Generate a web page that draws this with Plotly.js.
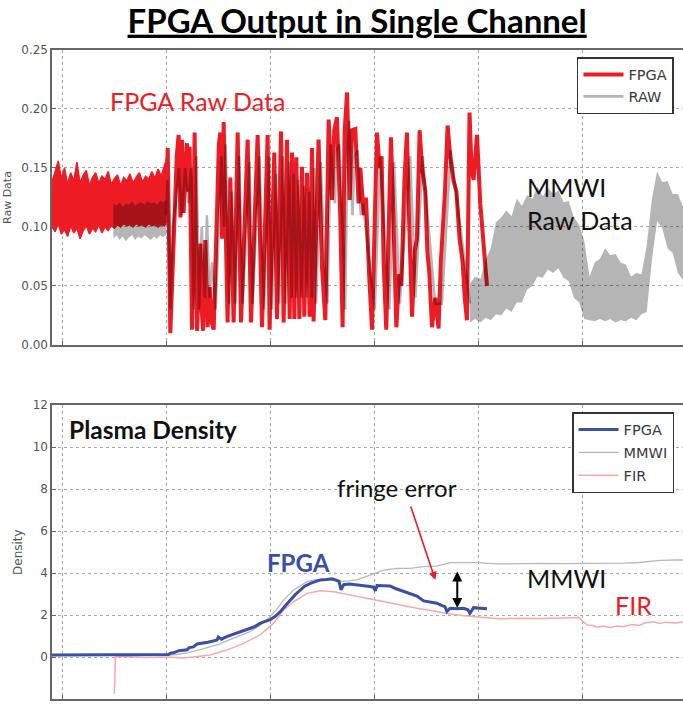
<!DOCTYPE html>
<html><head><meta charset="utf-8">
<script src="https://cdn.plot.ly/plotly-3.0.1.min.js"></script>
<style>html,body{margin:0;padding:0;overflow:hidden;background:#fff}#chart{width:710px;height:704px}</style>
</head><body><div id="chart"></div>
<script>
// ---- top panel: raw signals ----
const fpgaBandX  = [-10,-7,-4,-1,2,5,8,11,14,17,20,23,26,29,32,35,38,41,44,47,50,53,56,59,62,65,68,71,74,77,80,83,86,89,92,95,98,101];
const fpgaBandHi = [0.138,0.147,0.156,0.141,0.150,0.136,0.146,0.139,0.155,0.137,0.144,0.148,0.135,0.142,0.146,0.137,0.143,0.140,0.147,0.136,0.141,0.144,0.135,0.142,0.139,0.145,0.137,0.142,0.146,0.138,0.143,0.140,0.147,0.141,0.149,0.143,0.152,0.160];
const fpgaBandLo = [0.100,0.096,0.103,0.094,0.098,0.092,0.101,0.095,0.099,0.090,0.097,0.101,0.094,0.099,0.096,0.102,0.095,0.100,0.097,0.101,0.099,0.102,0.100,0.103,0.101,0.102,0.100,0.103,0.101,0.102,0.100,0.103,0.101,0.102,0.100,0.102,0.101,0.105];

const fpgaRaw = [[100,0.125],[101.3,0.167],[103.8,0.010],[106,0.07],[108.7,0.134],[110,0.16],[111.8,0.178],[113.5,0.108],[115.1,0.174],[116.6,0.112],[118.3,0.150],[119.9,0.171],[121,0.13],[122.4,0.168],[124.7,0.013],[127.2,0.180],[129.5,0.012],[131,0.06],[132.7,0.086],[134,0.03],[135.3,0.012],[137.5,0.089],[139.7,0.015],[141.6,0.049],[143.5,0.02],[145.5,0.013],[148.5,0.10],[150.5,0.17],[151.9,0.180],[153.6,0.09],[155.1,0.189],[158.9,0.019],[161.5,0.142],[164.7,0.019],[168.6,0.180],[171.8,0.019],[178.2,0.174],[181.4,0.019],[187.8,0.178],[192,0.015],[197.4,0.178],[199.3,0.013],[203.8,0.163],[206.4,0.022],[210.3,0.181],[212.8,0.019],[216,0.174],[218.6,0.022],[220.9,0.163],[223.1,0.022],[225,0.159],[227.9,0.022],[230.5,0.151],[232.7,0.024],[235.3,0.146],[237.8,0.024],[240.1,0.167],[241.6,0.020],[246.4,0.174],[249.7,0.066],[252.9,0.021],[256.1,0.191],[259.3,0.123],[261.5,0.182],[264.1,0.193],[267.3,0.108],[269.5,0.015],[271.4,0.180],[273.8,0.214],[276.3,0.123],[278.6,0.182],[281.7,0.183],[284.9,0.120],[286.5,0.150],[290,0.110],[292,0.125],[295,0.060],[297.8,0.013],[302.6,0.180],[305,0.150],[307,0.160],[309,0.070],[311.5,0.013],[316,0.176],[318,0.120],[321.2,0.015],[324,0.060],[326,0.050],[329,0.140],[331.4,0.180],[333,0.120],[336.3,0.024],[339,0.080],[341,0.090],[343.6,0.182],[346,0.150],[349,0.130],[351,0.080],[353,0.060],[355.5,0.015],[358.7,0.040],[361.8,0.014],[364,0.070],[366,0.100],[368,0.130],[370.5,0.186],[373,0.160],[376,0.140],[379,0.130],[382,0.090],[385,0.070],[387,0.040],[389.1,0.021],[391.6,0.197],[393.5,0.150],[395.5,0.140],[398.8,0.178],[401.9,0.120],[405.1,0.090],[408.4,0.050]];

const rawBandLX  = [49,52,55,58,61,64,67,70,73,76,79,82,85,88,91,94,97,100];
const rawBandLHi = [0.120,0.118,0.121,0.117,0.120,0.119,0.122,0.118,0.120,0.121,0.119,0.122,0.120,0.121,0.119,0.122,0.121,0.123];
const rawBandLLo = [0.090,0.093,0.089,0.092,0.088,0.091,0.093,0.089,0.092,0.090,0.093,0.091,0.089,0.092,0.090,0.093,0.091,0.094];

const rawMid = [[100,0.11],[101,0.14],[104,0.03],[106,0.10],[109,0.12],[112,0.15],[115,0.11],[118,0.15],[121,0.12],[124,0.15],[126.5,0.03],[129,0.16],[131.5,0.03],[134,0.10],[137,0.04],[139,0.11],[141.5,0.04],[144,0.07],[147.5,0.03],[153,0.16],[155.5,0.10],[157,0.17],[160.5,0.035],[163,0.13],[166.5,0.035],[170,0.16],[173.5,0.035],[180,0.155],[183,0.035],[189.5,0.16],[194,0.03],[199,0.16],[201.5,0.03],[205.5,0.145],[208.5,0.035],[212,0.16],[215,0.035],[218,0.155],[220.5,0.04],[222.5,0.145],[225,0.04],[227,0.14],[230,0.04],[232.5,0.135],[235,0.04],[237.5,0.13],[240,0.04],[242.5,0.15],[244,0.035],[248.5,0.155],[252,0.07],[255,0.035],[258,0.17],[262,0.12],[264,0.165],[266.5,0.17],[269.5,0.10],[272,0.03],[274,0.16],[276,0.19],[279,0.11],[281,0.16],[284,0.165],[287,0.11],[289,0.12],[300.5,0.03],[305.5,0.16],[314.5,0.03],[319,0.155],[324.5,0.035],[334.5,0.16],[339.5,0.04],[346.5,0.16],[358.5,0.035],[365,0.035],[373.5,0.165],[392,0.035]];

const rawBandRX  = [392,397,402,407,412,417,422,427,432,437,442,447,452,457,462,467,472,477,482,487,492,497,502,507,512,517,522,527,532,537,542,547,552,557,562,567,572,577,582,587,592,597,602,607,612,617,622];
const rawBandRHi = [0.052,0.058,0.056,0.072,0.082,0.104,0.108,0.114,0.109,0.124,0.118,0.127,0.124,0.134,0.126,0.133,0.128,0.131,0.121,0.122,0.108,0.102,0.088,0.058,0.070,0.073,0.082,0.076,0.077,0.070,0.068,0.058,0.061,0.060,0.084,0.124,0.147,0.138,0.139,0.128,0.128,0.117,0.117,0.109,0.111,0.103,0.106];
const rawBandRLo = [0.019,0.022,0.019,0.023,0.021,0.026,0.025,0.031,0.028,0.036,0.036,0.047,0.050,0.058,0.057,0.064,0.061,0.065,0.057,0.054,0.040,0.036,0.022,0.021,0.020,0.022,0.020,0.022,0.019,0.021,0.020,0.023,0.021,0.026,0.028,0.072,0.105,0.099,0.082,0.078,0.061,0.055,0.040,0.038,0.030,0.032,0.029];

// ---- bottom panel: density ----
const fpgaDensity = [[-10,0.10],[0,0.10],[20,0.09],[40,0.11],[60,0.10],[80,0.10],[100,0.10],[102,0.12],[104,0.18],[108,0.22],[112,0.30],[116,0.31],[120,0.34],[122,0.45],[126,0.48],[129.5,0.62],[135,0.65],[140,0.70],[145,0.76],[148.7,0.81],[150,0.95],[153,0.85],[158,0.97],[163,1.05],[167,1.12],[171,1.20],[176,1.28],[180.8,1.37],[185,1.45],[190,1.60],[195,1.70],[200,1.78],[205,1.95],[209.6,2.16],[214,2.42],[219,2.71],[224,2.97],[228.8,3.19],[233,3.37],[238.5,3.51],[243,3.60],[248,3.67],[254,3.69],[259.3,3.72],[264,3.65],[266,3.60],[268,3.20],[270.5,3.44],[276,3.47],[283.3,3.44],[290,3.40],[296,3.36],[299,3.33],[301,3.15],[302.6,3.40],[309,3.38],[315.4,3.38],[321,3.25],[328,3.14],[334,3.02],[341,2.90],[347.4,2.67],[354,2.60],[360.3,2.56],[365,2.45],[368,2.40],[369.9,2.16],[373,2.32],[380,2.30],[385.9,2.32],[390,2.25],[392,2.08],[395.5,2.35],[401,2.33],[408.4,2.30]];

const mmwiDensity = [[-10,0.08],[50,0.08],[100,0.08],[110,0.12],[120,0.20],[130,0.32],[140,0.45],[150,0.60],[160,0.80],[170,1.00],[180,1.20],[190,1.50],[196.8,1.78],[205,2.20],[212.8,2.71],[222.4,3.19],[230,3.45],[235.3,3.59],[245,3.70],[257.7,3.65],[270.5,3.60],[283.3,3.67],[296,3.90],[309,4.14],[321.8,4.22],[334.6,4.22],[347,4.30],[360,4.33],[373,4.49],[385,4.48],[398.8,4.49],[418,4.43],[440,4.45],[460,4.46],[480,4.45],[500,4.45],[520,4.46],[540,4.47],[555,4.50],[565,4.55],[575,4.60],[590,4.62],[605,4.62],[622,4.62]];

const firDensity = [[50,-1.75],[51,0.00],[60,0.02],[80,-0.02],[100,0.00],[110,-0.05],[116.6,-0.05],[126,0.00],[142,0.10],[158,0.33],[174.3,0.65],[190,1.05],[203,1.60],[212.8,2.24],[222.4,2.63],[235.3,3.03],[248,3.16],[261,3.11],[277,2.95],[293,2.79],[309,2.63],[325,2.48],[341,2.32],[357,2.19],[373,2.05],[389,1.95],[405,1.89],[420,1.82],[440,1.85],[460,1.83],[480,1.86],[497,1.88],[500,1.72],[505,1.52],[510,1.50],[515,1.42],[520,1.48],[527,1.40],[533,1.47],[540,1.45],[548,1.55],[555,1.50],[560,1.62],[568,1.68],[575,1.60],[580,1.66],[590,1.62],[600,1.68],[610,1.65],[622,1.67]];

const topTicks = [0, 0.05, 0.10, 0.15, 0.20, 0.25];
const bottomTicks = [-2, 0, 2, 4, 6, 8, 10, 12];

// ---- helpers ----
const xs = p => p.map(d => d[0]);
const ys = p => p.map(d => d[1]);
function band(x, hi, lo) {
  return { x: x.concat(x.slice().reverse()), y: hi.concat(lo.slice().reverse()) };
}
const RED = '#ed1c24';
const GRAYA = 'rgba(0,0,0,0.29)';
const b1 = band(fpgaBandX, fpgaBandHi, fpgaBandLo);
const b2 = band(rawBandLX, rawBandLHi, rawBandLLo);
const b3 = band(rawBandRX, rawBandRHi, rawBandRLo);

const traces = [
  {x: b1.x, y: b1.y, xaxis:'x', yaxis:'y', mode:'lines', fill:'toself', fillcolor:RED,
   line:{color:RED, width:1.5}, showlegend:false, hoverinfo:'skip'},
  {x: xs(fpgaRaw), y: ys(fpgaRaw), xaxis:'x', yaxis:'y', mode:'lines', name:'FPGA',
   line:{color:RED, width:4}, legend:'legend', legendrank:1},
  {x: b2.x, y: b2.y, xaxis:'x', yaxis:'y', mode:'lines', fill:'toself', fillcolor:GRAYA,
   line:{width:0}, showlegend:false, hoverinfo:'skip'},
  {x: xs(rawMid), y: ys(rawMid), xaxis:'x', yaxis:'y', mode:'lines', name:'RAW',
   line:{color:GRAYA, width:2.6}, legend:'legend', legendrank:2},
  {x: b3.x, y: b3.y, xaxis:'x', yaxis:'y', mode:'lines', fill:'toself', fillcolor:GRAYA,
   line:{width:0}, showlegend:false, hoverinfo:'skip'},

  {x: xs(mmwiDensity), y: ys(mmwiDensity), xaxis:'x2', yaxis:'y2', mode:'lines', name:'MMWI',
   line:{color:'#b8b8b8', width:1.3}, legend:'legend2', legendrank:2, legendgroup:'d'},
  {x: xs(firDensity), y: ys(firDensity), xaxis:'x2', yaxis:'y2', mode:'lines', name:'FIR',
   line:{color:'#f7a9a9', width:1.5}, legend:'legend2', legendrank:3, legendgroup:'e'},
  {x: xs(fpgaDensity), y: ys(fpgaDensity), xaxis:'x2', yaxis:'y2', mode:'lines', name:'FPGA',
   line:{color:'#3a4fa8', width:3}, legend:'legend2', legendrank:1, legendgroup:'c'}
];

const axisCommon = {
  showline:true, mirror:true, linecolor:'#666', linewidth:1.6,
  showgrid:true, gridcolor:'#a8a8a8', griddash:'dot', gridwidth:1,
  zeroline:false, ticks:'inside', ticklen:4, tickcolor:'#666',
  tickfont:{family:'DejaVu Sans', size:12, color:'#555'}
};
const xCommon = Object.assign({}, axisCommon, {range:[-10,620], tickmode:'linear', tick0:0, dtick:100, showticklabels:false});

const legendCommon = {xanchor:'left', yanchor:'top', bgcolor:'#fff', bordercolor:'#333', borderwidth:1.5,
  font:{family:'DejaVu Sans', size:14.5, color:'#3a3a3a'}, itemwidth:40};

const annFont = (size, color, weight) => ({family:'Lato', size:size, color:color, weight:weight||'normal'});

const layout = {
  width:710, height:704,
  margin:{l:52, r:3, t:50, b:5},
  paper_bgcolor:'#fff', plot_bgcolor:'#fff',
  title:{text:'<b><u>FPGA Output in Single Channel</u></b>', font:{family:'Lato', size:33, color:'#000'},
         x:0.503, xanchor:'center', y:0.970, yanchor:'middle', xref:'container', yref:'container'},
  xaxis: Object.assign({}, xCommon, {domain:[0,1], anchor:'y'}),
  yaxis: Object.assign({}, axisCommon, {domain:[0.5455,1], range:[0,0.25], tickvals:topTicks, tickformat:'.2f', anchor:'x'}),
  xaxis2: Object.assign({}, xCommon, {domain:[0,1], anchor:'y2'}),
  yaxis2: Object.assign({}, axisCommon, {domain:[0,0.453], range:[-2,12], tickvals:bottomTicks, anchor:'x2'}),
  legend: Object.assign({}, legendCommon, {x:0.8015, y:0.989, traceorder:'normal'}),
  legend2: Object.assign({}, legendCommon, {x:0.794, y:0.442, traceorder:'grouped', tracegroupgap:1}),
  showlegend:true,
  annotations:[
    {xref:'paper', yref:'paper', x:-0.0672, y:0.7735, xanchor:'center', yanchor:'middle', text:'Raw Data', textangle:-90, showarrow:false,
     font:{family:'DejaVu Sans', size:11, color:'#555'}},
    {xref:'paper', yref:'paper', x:-0.052, y:0.2265, xanchor:'center', yanchor:'middle', text:'Density', textangle:-90, showarrow:false,
     font:{family:'DejaVu Sans', size:12, color:'#555'}},
    {xref:'x', yref:'y', x:129.8, y:0.2068, text:'FPGA Raw Data', showarrow:false, font:annFont(25, RED)},
    {xref:'x', yref:'y', x:445, y:0.1195, xanchor:'left', align:'left', text:'MMWI<br>Raw Data', showarrow:false, font:annFont(25, '#111')},
    {xref:'x2', yref:'y2', x:4.8, y:10.81, xanchor:'left', text:'Plasma Density', showarrow:false, font:annFont(24.5, '#111', 'bold')},
    {xref:'x2', yref:'y2', x:262.5, y:8.05, xanchor:'left', text:'fringe error', showarrow:false, font:annFont(24, '#111')},
    {xref:'x2', yref:'y2', x:195.2, y:4.48, xanchor:'left', text:'FPGA', showarrow:false, font:annFont(24, '#3a4fa8', 'bold')},
    {xref:'x2', yref:'y2', x:445.2, y:3.76, xanchor:'left', text:'MMWI', showarrow:false, font:annFont(25, '#111')},
    {xref:'x2', yref:'y2', x:529.8, y:2.48, xanchor:'left', text:'FIR', showarrow:false, font:annFont(25, RED)},
    {xref:'x2', yref:'y2', x:358.7, y:3.67, axref:'x2', ayref:'y2', ax:334.6, ay:7.24, text:'', showarrow:true,
     arrowhead:2, arrowsize:1, arrowwidth:1.6, arrowcolor:RED},
    {xref:'x2', yref:'y2', x:379.8, y:2.33, axref:'x2', ayref:'y2', ax:379.8, ay:4.14, text:'', showarrow:true,
     arrowhead:2, startarrowhead:2, arrowside:'end+start', arrowsize:1, startarrowsize:1, arrowwidth:2, arrowcolor:'#000'}
  ]
};

Plotly.newPlot('chart', traces, layout, {staticPlot:true, displayModeBar:false});
</script>
</body></html>
